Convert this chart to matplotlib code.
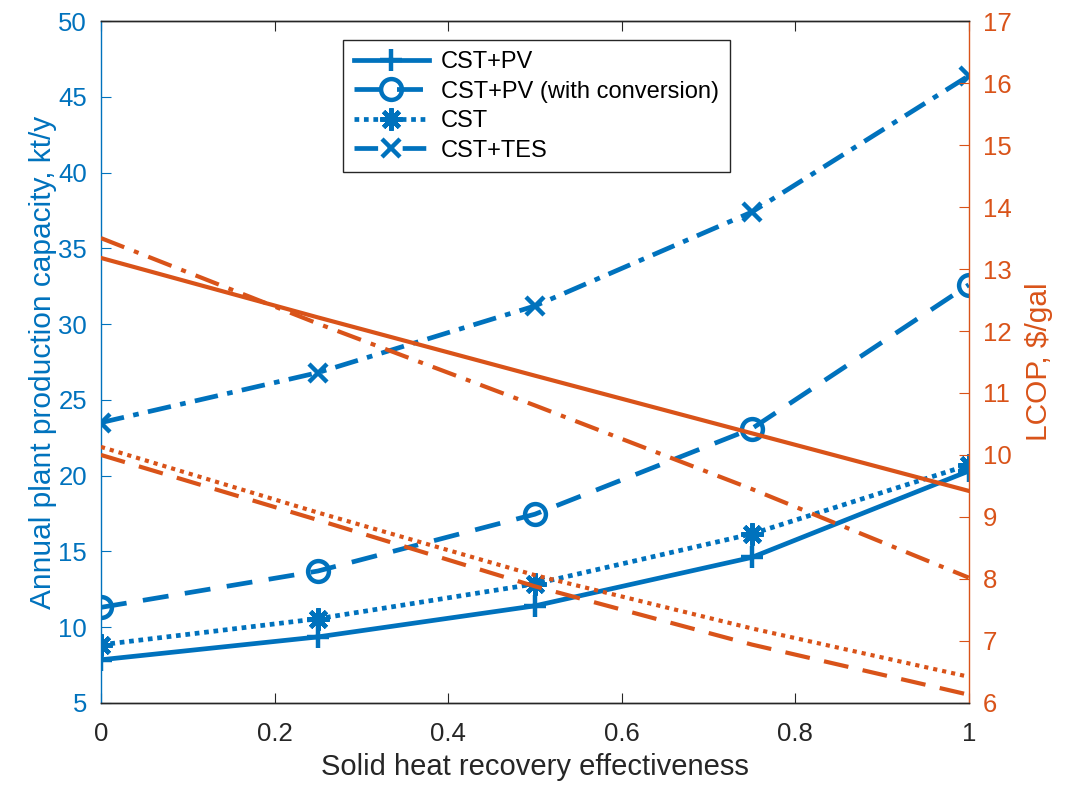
import numpy as np
import matplotlib
matplotlib.use("Agg")
import matplotlib.pyplot as plt

plt.rcParams['font.family'] = ['Liberation Sans', 'DejaVu Sans']

# data
effectiveness = [0, 0.25, 0.5, 0.75, 1.0]

cap_cst_pv = [7.84, 9.35, 11.4, 14.6, 20.3]
cap_cst_pv_conv = [11.3, 13.7, 17.45, 23.1, 32.6]
cap_cst = [8.83, 10.55, 12.85, 16.15, 20.7]
cap_cst_tes = [23.5, 26.8, 31.2, 37.4, 46.4]

lcop_cst_pv = [13.18, 12.22, 11.28, 10.35, 9.42]
lcop_cst_pv_conv = [10.0, 8.95, 7.88, 6.94, 6.13]
lcop_cst = [10.13, 9.07, 8.06, 7.2, 6.42]
lcop_cst_tes = [13.5, 12.12, 10.8, 9.45, 8.02]

legend_labels = ['CST+PV', 'CST+PV (with conversion)', 'CST', 'CST+TES']

blue = '#0072BD'
orange = '#D95319'
dark = '#262626'

fig = plt.figure(figsize=(10.74, 7.87), dpi=100)
ax = fig.add_axes([0.094, 0.107, 0.808, 0.866])
ax2 = ax.twinx()

lw_b = 3.4
ax.plot(effectiveness, cap_cst_pv, color=blue, lw=lw_b, marker='+', ms=16, mew=3.2,
        label=legend_labels[0])
ax.plot(effectiveness, cap_cst_pv_conv, color=blue, lw=lw_b, marker='o', ms=15, mew=3.2,
        mfc='none', dashes=(5.5, 3.5), dash_capstyle='butt', label=legend_labels[1])
ax.plot(effectiveness, cap_cst, color=blue, lw=lw_b, marker=(8, 2, 0), ms=16, mew=3.2,
        dashes=(1, 1), dash_capstyle='butt', label=legend_labels[2])
ax.plot(effectiveness, cap_cst_tes, color=blue, lw=lw_b, marker='x', ms=13, mew=3.2,
        dashes=(5, 2, 1.2, 2), dash_capstyle='butt', label=legend_labels[3])

lw_o = 3.0
ax2.plot(effectiveness, lcop_cst_pv, color=orange, lw=lw_o)
ax2.plot(effectiveness, lcop_cst_pv_conv, color=orange, lw=lw_o, dashes=(6, 3.5),
         dash_capstyle='butt')
ax2.plot(effectiveness, lcop_cst, color=orange, lw=lw_o, dashes=(1, 1.2),
         dash_capstyle='butt')
ax2.plot(effectiveness, lcop_cst_tes, color=orange, lw=lw_o, dashes=(6, 2.5, 1.2, 2.5),
         dash_capstyle='butt')

ax.set_xlim(0, 1)
ax.set_ylim(5, 50)
ax2.set_ylim(6, 17)
ax.set_xticks(np.arange(0, 1.01, 0.2))
ax.set_xticklabels(['0', '0.2', '0.4', '0.6', '0.8', '1'])
ax.set_yticks(np.arange(5, 51, 5))
ax2.set_yticks(np.arange(6, 18, 1))

ax.set_xlabel('Solid heat recovery effectiveness', fontsize=21, color=dark, labelpad=5)
ax.set_ylabel('Annual plant production capacity, kt/y', fontsize=21.5, color=blue, labelpad=1)
ax2.set_ylabel('LCOP, $/gal', fontsize=21.5, color=orange, labelpad=10)

ax.tick_params(axis='x', direction='in', length=7, labelsize=18.5, colors=dark, pad=14,
               top=True)
ax.tick_params(axis='y', direction='in', length=7, labelsize=18.5, colors=blue, pad=10)
ax2.tick_params(axis='y', direction='in', length=7, labelsize=18.5, colors=orange, pad=10)

for a in (ax, ax2):
    a.spines['top'].set_color(dark)
    a.spines['bottom'].set_color(dark)
    a.spines['left'].set_color(blue)
    a.spines['right'].set_color(orange)
    for s in a.spines.values():
        s.set_linewidth(1.0)
ax.spines['right'].set_visible(False)
ax2.spines['left'].set_visible(False)

leg = ax.legend(loc='upper left', bbox_to_anchor=(0.279, 0.972), fontsize=17,
                frameon=True, fancybox=False, framealpha=1, edgecolor=dark,
                handlelength=3.2, handletextpad=0.5, borderpad=0.45, labelspacing=0.32,
                borderaxespad=0)
leg.get_frame().set_linewidth(1.0)
leg.set_zorder(20)

fig.savefig('out.png', dpi=100)
